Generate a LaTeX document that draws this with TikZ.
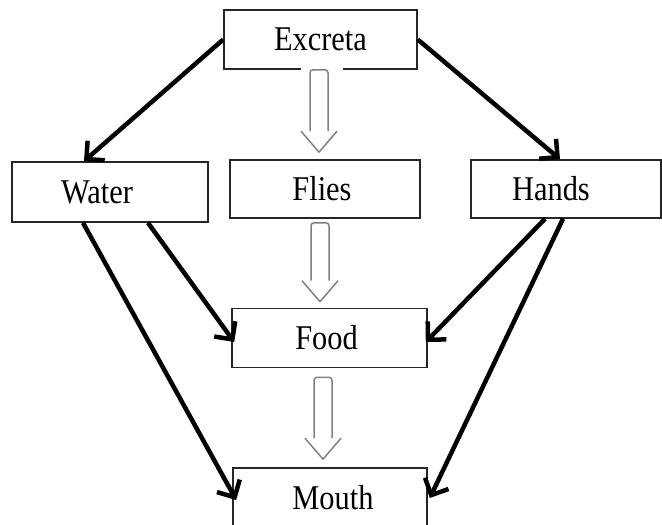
\documentclass[tikz,border=0pt]{standalone}
\usepackage{fontspec}
\setmainfont{Liberation Serif}
\usetikzlibrary{arrows.meta,calc}
\tikzset{
  box/.style={draw=black!85, line width=1.6pt, rectangle, inner sep=0pt, font=\fontsize{31}{34}\selectfont},
  thick arrow/.style={draw=black, line width=4.5pt, -{Straight Barb[length=13pt,width=26pt]}},
  hol/.style={draw=black!50, line width=1.5pt, line join=round},
}
\newcommand\tall[1]{\scalebox{0.98}[1.12]{#1}}
\newcommand\hollowarrow[5]{%
  \draw[hol] let \p1=(#1.south), \p2=(#2.north) in
    [rounded corners=3pt] (#3pt-9pt,\y2+#5pt+21pt) -- (#3pt-9pt,\y1-#4pt) -- (#3pt+9pt,\y1-#4pt) -- (#3pt+9pt,\y2+#5pt+21pt)
    [sharp corners] (#3pt-18pt,\y2+#5pt+21pt) -- (#3pt,\y2+#5pt) -- (#3pt+18pt,\y2+#5pt+21pt);
}
\begin{document}
\begin{tikzpicture}[x=1pt,y=-1pt]
\useasboundingbox (0,0) rectangle (662,525);
\node[box, minimum width=193pt, minimum height=59pt] (ex) at (320.5,39.5) {\tall{Excreta}};
\node[box, minimum width=196pt, minimum height=60pt] (wa) at (110,192) {\tall{Water}\hspace*{26pt}};
\node[box, minimum width=190pt, minimum height=58pt] (fl) at (325,189) {\tall{Flies}\hspace*{6pt}};
\node[box, minimum width=190pt, minimum height=58pt] (ha) at (566,189) {\tall{Hands}\hspace*{30pt}};
\node[box, minimum width=195pt, minimum height=59pt] (fo) at (329.5,338) {\tall{Food}\hspace*{6pt}};
\node[box, minimum width=194pt, minimum height=60pt] (mo) at (330,498) {\tall{Mouth}\hspace*{-6pt}};
% thick arrows
\draw[thick arrow] (ex.west) -- ($(wa.north)+(-26,0)$);
\draw[thick arrow] (ex.east) -- ($(ha.north)+(-6,0)$);
\draw[thick arrow] ($(wa.south)+(38,0)$) -- ($(fo.west)+(3,4)$);
\draw[thick arrow] ($(wa.south)+(-27,0)$) -- ($(mo.west)+(4,2)$);
\draw[thick arrow] ($(ha.south)+(-21,0)$) -- ($(fo.east)+(-2,4)$);
\draw[thick arrow] ($(ha.south)+(-3,0)$) -- ($(mo.east)+(2,0)$);
% hollow arrows
\fill[white] ($(ex.south)+(-20,-2)$) rectangle ($(ex.south)+(22,2)$);
\hollowarrow{ex}{fl}{319}{0}{7}
\hollowarrow{fl}{fo}{320}{4}{6}
\hollowarrow{fo}{mo}{323}{9}{8}
\end{tikzpicture}
\end{document}
